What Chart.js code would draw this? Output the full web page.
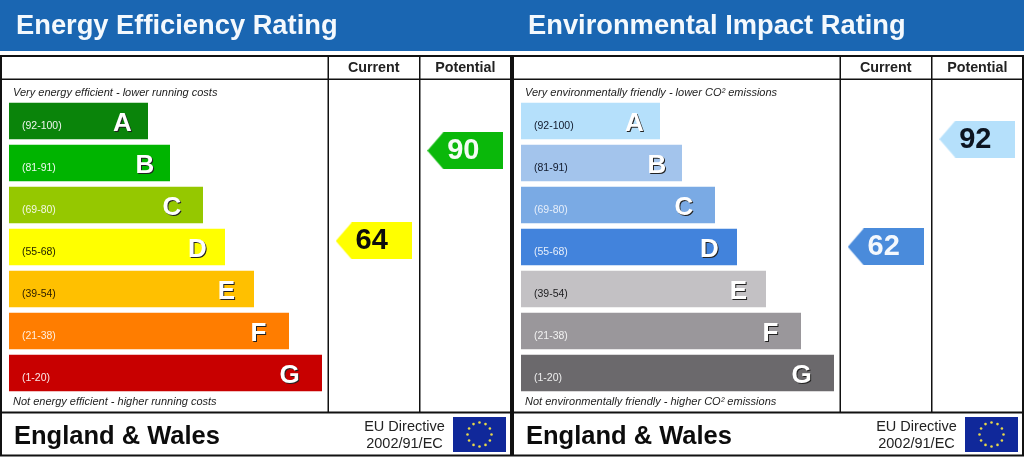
<!DOCTYPE html>
<html>
<head>
<meta charset="utf-8">
<title>Energy and Environmental Ratings</title>
<script src="https://cdn.jsdelivr.net/npm/chart.js@4/dist/chart.umd.min.js"></script>
<style>
html, body { margin: 0; padding: 0; background: #fff; }
body { width: 1024px; height: 457px; overflow: hidden; position: relative; font-family: "Liberation Sans", Arial, sans-serif; }
#header { position: absolute; left: 0; top: 0; width: 1024px; height: 51px; background: #1a66b2; }
.panel { position: absolute; top: 0; width: 512px; height: 457px; }
.panel canvas { position: absolute; left: 0; top: 0; }
.panel div, .panel svg { position: absolute; white-space: nowrap; }
.title { left: 16px; top: 9px; font-size: 27.3px; line-height: 32px; font-weight: bold; color: #f4f9fd; }
.note { left: 13px; font-size: 11px; line-height: 12px; font-style: italic; color: #222; }
.region { left: 14px; top: 420px; font-size: 25.5px; line-height: 30px; font-weight: bold; color: #0c0c0c; }
.directive { left: 342px; width: 125px; top: 418px; text-align: center; font-size: 14.5px; line-height: 17px; color: #222; }
.flag { left: 453px; top: 417px; }
</style>
</head>
<body>
<div id="header"></div>
<div class="panel" id="energy"></div>
<div class="panel" id="environment" style="left:512px"></div>
<script>
// values
var bandLetters = ['A', 'B', 'C', 'D', 'E', 'F', 'G'];
var bandRanges = ['(92-100)', '(81-91)', '(69-80)', '(55-68)', '(39-54)', '(21-38)', '(1-20)'];
var bandLengths = [139, 161, 194, 216, 245, 280, 313];
var columnLabels = ['Current', 'Potential'];

var energyRatings = [64, 90];
var energyBandColors = ['#0a840a', '#00b400', '#95c800', '#ffff00', '#ffc000', '#ff7d00', '#c80000'];
var energyRangeColors = ['#eef5ee', '#eef8ee', '#f2f7e0', '#222200', '#2a1c00', '#ffeedd', '#fbe8e8'];
var energyPointerColors = ['#ffff00', '#0ab80a'];
var energyPointerText = ['#0c0c0c', '#f4fbf4'];

var environmentRatings = [62, 92];
var environmentBandColors = ['#b5e0fb', '#a3c4ec', '#7aaae4', '#4283dc', '#c3c1c4', '#9a979b', '#6b696c'];
var environmentRangeColors = ['#10182a', '#10182a', '#e6eefa', '#e6eefa', '#1c1c1e', '#f2f2f2', '#eeeeee'];
var environmentPointerColors = ['#4a8bdb', '#b5e0fb'];
var environmentPointerText = ['#f4f8fd', '#0c1420'];

// score axis ends, each panel has its own spacing
var energyScoreRange = [19.9, 104.6];
var environmentScoreRange = [21.0, 102.9];

// how far each letter sits in from the end of its bar
var letterInsets = [25.5, 25, 31, 27.5, 27.5, 30.5, 32.5];

function pointerImage(color) {
    var c = document.createElement('canvas');
    c.width = 76;
    c.height = 37;
    var g = c.getContext('2d');
    g.fillStyle = color;
    g.beginPath();
    g.moveTo(0, 18.5);
    g.lineTo(16, 0);
    g.lineTo(76, 0);
    g.lineTo(76, 37);
    g.lineTo(16, 37);
    g.closePath();
    g.fill();
    return c;
}

// table rules behind the bars
var framePlugin = {
    id: 'frame',
    beforeDraw: function (chart) {
        var g = chart.ctx;
        g.save();
        g.fillStyle = '#111';
        g.fillRect(0, 55, 512, 2);
        g.fillRect(0, 78.5, 512, 1.5);
        g.fillRect(0, 411.5, 512, 2);
        g.fillRect(0, 454.5, 512, 2);
        g.fillRect(0, 55, 2, 401);
        g.fillRect(510, 55, 2, 401);
        g.fillRect(327.5, 55, 1.5, 357);
        g.fillRect(419, 55, 1.5, 357);
        g.restore();
    }
};

// band letters and the numbers on the pointers
var labelPlugin = {
    id: 'labels',
    afterDatasetsDraw: function (chart) {
        var g = chart.ctx;
        g.save();
        g.textAlign = 'center';
        g.textBaseline = 'middle';
        g.font = 'bold 26px "Liberation Sans", Arial, sans-serif';
        chart.getDatasetMeta(0).data.forEach(function (bar, i) {
            g.fillStyle = '#222';
            g.fillText(bandLetters[i], bar.x - letterInsets[i] + 1, bar.y + 3.5);
            g.fillStyle = '#fff';
            g.fillText(bandLetters[i], bar.x - letterInsets[i], bar.y + 2.5);
        });
        var pointers = chart.data.datasets[1];
        g.font = 'bold 29px "Liberation Sans", Arial, sans-serif';
        chart.getDatasetMeta(1).data.forEach(function (pt, i) {
            g.fillStyle = pointers.textColors[i];
            g.fillText(pointers.data[i].y, pt.x - 2, pt.y + 0.5);
        });
        g.restore();
    }
};

function drawPanel(id, title, topNote, bottomNote, ratings, bandColors, rangeColors, pointerColors, pointerText, scoreRange) {
    var panel = document.getElementById(id);
    var stars = '';
    for (var i = 0; i < 12; i++) {
        var a = i * Math.PI / 6;
        stars += '<circle cx="' + (26.5 + 12 * Math.cos(a)).toFixed(1) + '" cy="' + (17.5 + 12 * Math.sin(a)).toFixed(1) + '" r="1.3" fill="#e8d84a"/>';
    }
    panel.innerHTML =
        '<canvas width="512" height="457"></canvas>' +
        '<div class="title">' + title + '</div>' +
        '<div class="note" style="top:86px">' + topNote + '</div>' +
        '<div class="note" style="top:395px">' + bottomNote + '</div>' +
        '<div class="region">England &amp; Wales</div>' +
        '<div class="directive">EU Directive<br>2002/91/EC</div>' +
        '<svg class="flag" width="53" height="35"><rect width="53" height="35" fill="#10289a"/>' + stars + '</svg>';

    new Chart(panel.querySelector('canvas').getContext('2d'), {
        type: 'bar',
        plugins: [framePlugin, labelPlugin],
        data: {
            labels: bandRanges,
            datasets: [{
                indexAxis: 'y',
                xAxisID: 'x',
                yAxisID: 'y',
                data: bandLengths,
                backgroundColor: bandColors,
                grouped: false,
                barPercentage: 0.868,
                categoryPercentage: 1
            }, {
                type: 'scatter',
                indexAxis: 'x',
                xAxisID: 'col',
                yAxisID: 'score',
                data: ratings.map(function (r, i) { return { x: i + 1, y: r }; }),
                pointStyle: pointerColors.map(pointerImage),
                textColors: pointerText
            }]
        },
        options: {
            responsive: false,
            animation: false,
            indexAxis: 'y',
            layout: { padding: { left: 9, right: 1, top: 55, bottom: 63 } },
            plugins: { legend: { display: false }, tooltip: { enabled: false } },
            scales: {
                x: { type: 'linear', axis: 'x', min: 0, max: 498, display: false },
                y: {
                    type: 'category',
                    axis: 'y',
                    grid: { display: false, drawTicks: false },
                    border: { display: false },
                    afterFit: function (scale) { scale.width = 0; },
                    ticks: {
                        z: 1,
                        mirror: true,
                        padding: 13,
                        labelOffset: 5,
                        autoSkip: false,
                        font: { size: 10.5, family: '"Liberation Sans", Arial, sans-serif' },
                        color: function (ctx) { return rangeColors[ctx.index]; }
                    }
                },
                col: {
                    type: 'linear',
                    axis: 'x',
                    position: 'top',
                    offset: false,
                    min: -2.981,
                    max: 2.455,
                    grid: { display: false, drawTicks: false },
                    border: { display: false },
                    afterFit: function (scale) {
                        scale.height = 45;
                        scale.paddingLeft = 0;
                        scale.paddingRight = 0;
                    },
                    afterBuildTicks: function (scale) { scale.ticks = [{ value: 1 }, { value: 2 }]; },
                    ticks: {
                        padding: 23,
                        autoSkip: false,
                        maxRotation: 0,
                        font: { size: 14.3, weight: 'bold', family: '"Liberation Sans", Arial, sans-serif' },
                        color: '#222',
                        callback: function (v) { return columnLabels[v - 1]; }
                    }
                },
                score: { type: 'linear', axis: 'y', position: 'right', offset: false, min: scoreRange[0], max: scoreRange[1], display: false }
            }
        }
    });
}

drawPanel('energy', 'Energy Efficiency Rating',
    'Very energy efficient - lower running costs', 'Not energy efficient - higher running costs',
    energyRatings, energyBandColors, energyRangeColors, energyPointerColors, energyPointerText, energyScoreRange);
drawPanel('environment', 'Environmental Impact Rating',
    'Very environmentally friendly - lower CO² emissions', 'Not environmentally friendly - higher CO² emissions',
    environmentRatings, environmentBandColors, environmentRangeColors, environmentPointerColors, environmentPointerText, environmentScoreRange);
</script>
</body>
</html>
